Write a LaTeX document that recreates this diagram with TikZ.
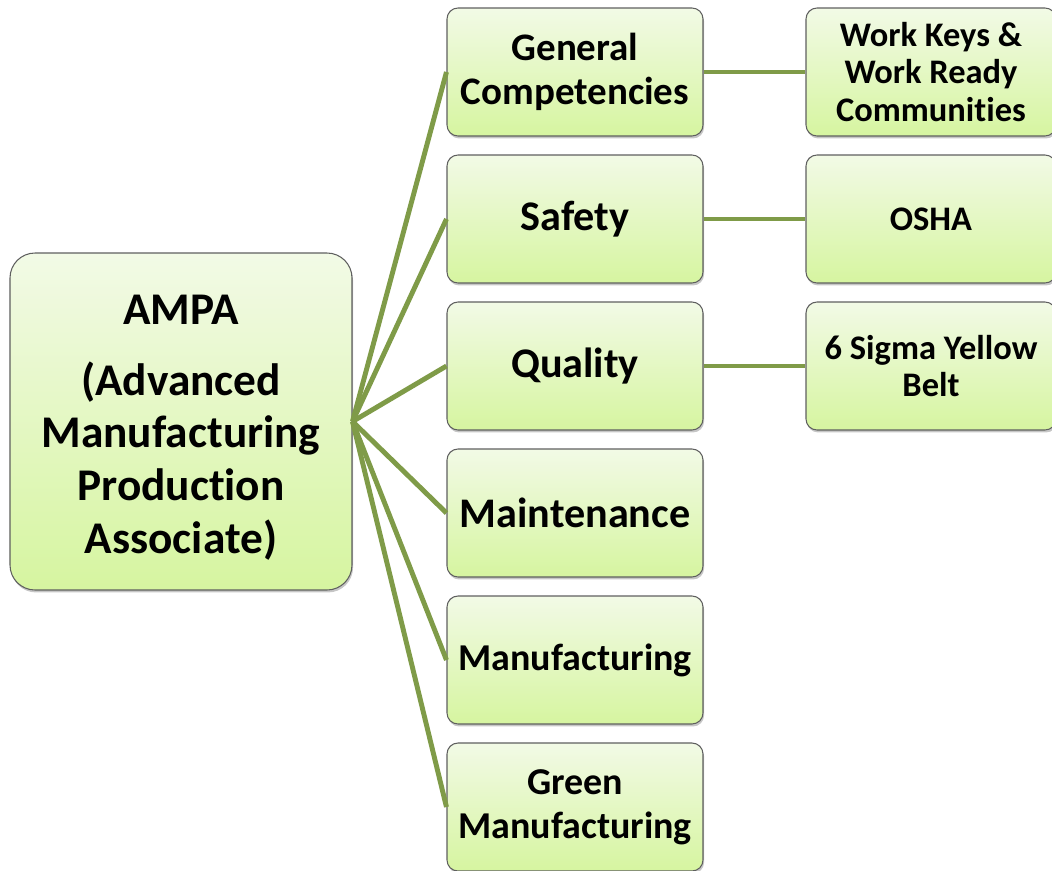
\documentclass[tikz,border=0pt]{standalone}
\usepackage{fontspec}
\setmainfont{Carlito}[Ligatures=NoCommon]
\usetikzlibrary{shadows}

\definecolor{linkgreen}{RGB}{127,155,72}
\definecolor{boxtop}{RGB}{242,250,230}
\definecolor{boxbottom}{RGB}{214,245,160}
\definecolor{boxedge}{RGB}{95,95,95}

\tikzset{
  box/.style={draw=boxedge, line width=0.6pt, rounded corners=0.22cm,
    top color=boxtop, bottom color=boxbottom, align=center,
    font=\bfseries, inner sep=0pt,
    drop shadow={shadow xshift=0.6pt, shadow yshift=-1.4pt, opacity=0.45}},
  mainbox/.style={box, minimum width=5.12cm, minimum height=2.56cm,
    font=\fontsize{21.6}{24.8}\bfseries\selectfont},
  bigbox/.style={mainbox, font=\fontsize{24}{27}\bfseries\selectfont},
  certbox/.style={box, minimum width=5.0cm, minimum height=2.56cm,
    font=\fontsize{19.6}{21.2}\bfseries\selectfont},
  link/.style={draw=linkgreen, line width=2.8pt}
}

\begin{document}
\begin{tikzpicture}
\useasboundingbox (0,0) rectangle (21.04,-17.4);

% The root box on the left
\node[box, rounded corners=0.5cm, minimum width=6.84cm, minimum height=6.74cm,
  font=\fontsize{25.8}{30}\bfseries\selectfont] (ampa) at (3.62,-8.43)
  {\\[-6pt]AMPA\\[10pt](Advanced\\Manufacturing\\Production\\Associate)};

% Middle column
\node[mainbox, font=\fontsize{22.2}{24.8}\bfseries\selectfont] (general) at (11.5,-1.44) {General\\Competencies};
\node[bigbox] (safety) at (11.5,-4.38) {Safety};
\node[bigbox] (quality) at (11.5,-7.32) {Quality};
\node[bigbox] (maint) at (11.5,-10.26) {Maintenance};
\node[mainbox] (manuf) at (11.5,-13.2) {Manufacturing};
\node[mainbox] (green) at (11.5,-16.14) {Green\\Manufacturing};

% Right column
\node[certbox] (workkeys) at (18.62,-1.44) {Work Keys \&\\Work Ready\\Communities};
\node[certbox] (osha) at (18.62,-4.38) {OSHA};
\node[certbox] (sigma) at (18.62,-7.32) {6 Sigma Yellow\\Belt};

% Links from the root
\draw[link] (ampa.east) -- (general.west);
\draw[link] (ampa.east) -- (safety.west);
\draw[link] (ampa.east) -- (quality.west);
\draw[link] (ampa.east) -- (maint.west);
\draw[link] (ampa.east) -- (manuf.west);
\draw[link] (ampa.east) -- (green.west);

% Links to the certifications
\draw[link] (general.east) -- (workkeys.west);
\draw[link] (safety.east) -- (osha.west);
\draw[link] (quality.east) -- (sigma.west);
\end{tikzpicture}
\end{document}
